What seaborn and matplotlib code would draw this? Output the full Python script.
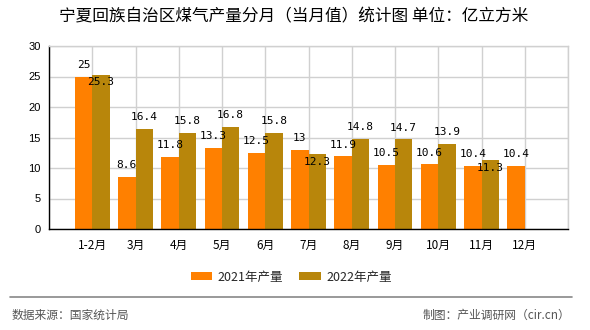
import matplotlib
matplotlib.use("Agg")
import matplotlib.pyplot as plt
from matplotlib.patches import Patch
from matplotlib.lines import Line2D
import seaborn as sns
import pandas as pd
import numpy as np

categories = ["1-2月", "3月", "4月", "5月", "6月", "7月", "8月", "9月", "10月", "11月", "12月"]
series_names = ["2021年产量", "2022年产量"]
values_2021 = [25, 8.6, 11.8, 13.3, 12.5, 13, 11.9, 10.5, 10.6, 10.4, 10.4]
values_2022 = [25.3, 16.4, 15.8, 16.8, 15.8, 12.3, 14.8, 14.7, 13.9, 11.3, np.nan]
y_ticks = [0, 5, 10, 15, 20, 25, 30]
title = "宁夏回族自治区煤气产量分月（当月值）统计图 单位：亿立方米"
source_text = "数据来源：国家统计局"
credit_text = "制图：产业调研网（cir.cn）"

colors = ["#FF8000", "#B8860B"]

sns.set_theme(style="white")
plt.rcParams["font.family"] = ["Noto Sans CJK SC", "DejaVu Sans"]

df = pd.DataFrame({
    "月份": categories * 2,
    "产量": values_2021 + values_2022,
    "系列": [series_names[0]] * len(categories) + [series_names[1]] * len(categories),
})

fig = plt.figure(figsize=(5.9, 3.3), dpi=100)
ax = fig.add_axes([49 / 590, 1 - 229 / 330, (568 - 49) / 590, (229 - 46) / 330])

sns.barplot(data=df, x="月份", y="产量", hue="系列", order=categories,
            hue_order=series_names, palette=colors, width=0.8, errorbar=None,
            saturation=1, linewidth=0, ax=ax, zorder=2)

ax.set_xlim(-1, 11)
ax.set_ylim(0, 30)
ax.set_yticks(y_ticks)
ax.set_yticklabels([str(v) for v in y_ticks], fontsize=8, family=["Liberation Sans", "DejaVu Sans"])
ax.set_xticks(list(range(-1, len(categories) + 1)))
ax.set_xticklabels([""] + categories + [""], fontsize=8.5)
ax.set_xlabel("")
ax.set_ylabel("")
ax.grid(True, color="#d0d0d0", linewidth=1, zorder=0)
ax.set_axisbelow(True)
for side in ["left", "bottom"]:
    ax.spines[side].set_color("black")
    ax.spines[side].set_linewidth(1)
for side in ["top", "right"]:
    ax.spines[side].set_color("#d0d0d0")
    ax.spines[side].set_linewidth(1)
ax.tick_params(axis="both", which="both", direction="out", length=4, width=1,
               color="black", pad=2, labelcolor="black")
ax.tick_params(axis="x", pad=3)

leg = ax.get_legend()
if leg is not None:
    leg.remove()

# data labels
cont21, cont22 = ax.containers[0], ax.containers[1]
lab_font = dict(fontsize=8, family=["DejaVu Sans Mono", "DejaVu Sans"], color="black",
                ha="center", va="center", zorder=5)
for i, (p, v) in enumerate(zip(cont21.patches, values_2021)):
    if np.isnan(v):
        continue
    ax.annotate(f"{v:g}", xy=(p.get_x() + p.get_width() / 2, v),
                xytext=(0, 8.5), textcoords="offset points", **lab_font)
for i, (p, v) in enumerate(zip(cont22.patches, values_2022)):
    if np.isnan(v):
        continue
    below = abs(v - values_2021[i]) < 2
    ax.annotate(f"{v:g}", xy=(p.get_x() + p.get_width() / 2, v),
                xytext=(0, -5.5 if below else 8.5), textcoords="offset points", **lab_font)

handles = [Patch(facecolor=c, edgecolor="none") for c in colors]
fig.legend(handles, series_names, loc="center", bbox_to_anchor=(291 / 590, 1 - 277 / 330),
           ncol=2, frameon=False, fontsize=9, handlelength=1.75, handleheight=0.65,
           handletextpad=0.4, columnspacing=1.3, borderpad=0)

fig.text(294 / 590, 1 - 17 / 330, title, ha="center", va="center", fontsize=12, color="black")

fig.add_artist(Line2D([10 / 590, 572 / 590], [1 - 297 / 330, 1 - 297 / 330],
                      color="#888888", linewidth=1.2, transform=fig.transFigure))
fig.text(12 / 590, 1 - 315 / 330, source_text, ha="left", va="center", fontsize=8.5, color="#555555")
fig.text(570 / 590, 1 - 315 / 330, credit_text, ha="right", va="center", fontsize=8.5, color="#555555")

fig.savefig("out.png", dpi=100)
